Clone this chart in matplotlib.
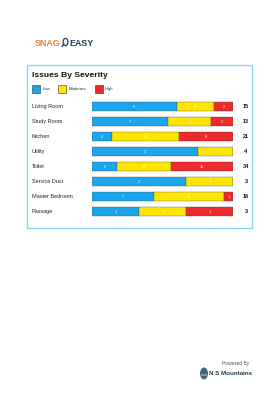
import numpy as np
import matplotlib
matplotlib.use("Agg")
import matplotlib.pyplot as plt
from matplotlib.patches import Rectangle, Circle
from matplotlib.lines import Line2D
from matplotlib.transforms import blended_transform_factory

plt.rcParams['font.family'] = ['Liberation Sans', 'DejaVu Sans']

# data
rooms = ["Living Room", "Study Room", "Kitchen", "Utility", "Toilet",
         "Service Duct", "Master Bedroom", "Passage"]
low = [9, 7, 3, 3, 6, 2, 7, 1]
moderate = [4, 4, 10, 1, 13, 1, 8, 1]
high = [2, 2, 8, 0, 15, 0, 1, 1]
levels = ["Low", "Moderate", "High"]
colors = ["#1ba6ec", "#ffe600", "#ee2a2a"]

W, H = 280, 420
fig = plt.figure(figsize=(2.8, 4.2), dpi=100)
fig.patch.set_facecolor("white")

def fx(px):
    return px / W

def fy(py):
    return 1 - py / H

# header logo
fig.text(fx(35), fy(43.5), "SNAG", color="#ec7a45", fontsize=6.4,
         fontweight="bold", va="center", ha="left")
fig.patches.append(Circle((fx(65.5), fy(42)), 2.4 / W, transform=fig.transFigure,
                          fill=False, ec="#2a3f5a", lw=0.9))
fig.lines.append(Line2D([fx(63.6), fx(62.2)], [fy(44), fy(46.5)],
                        transform=fig.transFigure, color="#2a3f5a", lw=1.0))
fig.text(fx(69.5), fy(43.5), "EASY", color="#22415f", fontsize=6.4,
         fontweight="bold", va="center", ha="left")

# panel border
fig.patches.append(Rectangle((fx(27), fy(228)), (252 - 27) / W, (228 - 65) / H,
                             transform=fig.transFigure, fill=False,
                             ec="#8ed6f4", lw=1.0))
fig.text(fx(32), fy(75.5), "Issues By Severity", fontsize=6.1, fontweight="bold",
         va="center", ha="left", color="#111111")

# legend
lx = [32, 58, 94.5]
for x, lab, c in zip(lx, levels, colors):
    fig.patches.append(Rectangle((fx(x), fy(93.3)), 8 / W, 8 / H,
                                 transform=fig.transFigure, fc=c,
                                 ec="#333333", lw=0.4))
    fig.text(fx(x + 10.5), fy(89.3), lab, fontsize=3.1, va="center", ha="left",
             color="#333333")

# bars
ax = fig.add_axes([fx(92), fy(219), (233 - 92) / W, (219 - 99.5) / H])
data = np.array([low, moderate, high], dtype=float)
totals = data.sum(axis=0)
frac = data / totals
y = np.arange(len(rooms))
left = np.zeros(len(rooms))
for i in range(3):
    ax.barh(y, frac[i], left=left, height=0.6, color=colors[i],
            edgecolor="#4a4a4a", linewidth=0.25)
    for j in range(len(rooms)):
        if data[i, j] > 0:
            ax.text(left[j] + frac[i, j] / 2, y[j], str(int(data[i, j])),
                    color="white", fontsize=2.8, ha="center", va="center")
    left += frac[i]
ax.set_xlim(0, 1)
ax.set_ylim(len(rooms) - 0.5, -0.5)
ax.axis("off")

tr = blended_transform_factory(fig.transFigure, ax.transData)
for j, r in enumerate(rooms):
    ax.text(fx(32), y[j], r, transform=tr, fontsize=4.0, ha="left",
            va="center", color="#222222")
    ax.text(fx(246), y[j], str(int(totals[j])), transform=tr, fontsize=4.0,
            fontweight="bold", ha="center", va="center", color="#111111")

# footer
fig.text(fx(249), fy(363.5), "Powered By", fontsize=3.6, ha="right",
         va="center", color="#555555")
fig.patches.append(Circle((fx(204), fy(373.5)), 4.0 / W, transform=fig.transFigure,
                          fc="#2b6f8c", ec="none"))
fig.patches.append(Rectangle((fx(201), fy(376)), 6 / W, 2.5 / H,
                             transform=fig.transFigure, fc="#e07a3a", ec="none"))
fig.text(fx(209), fy(373.7), "N S Mountains", fontsize=4.5, fontweight="bold",
         ha="left", va="center", color="#1f3a4d")

fig.savefig("out.png", dpi=100, facecolor="white")
